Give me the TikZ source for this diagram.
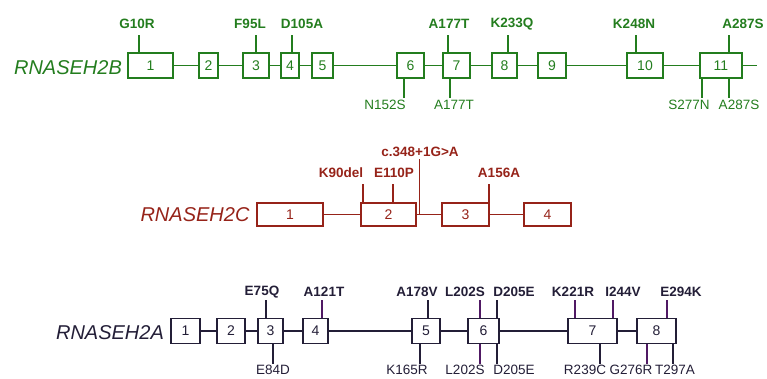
\documentclass[tikz,border=0pt]{standalone}
\usepackage{fontspec}
\setmainfont{Liberation Sans}
\usepackage{tikz}
\definecolor{geneB}{RGB}{35,125,30}
\definecolor{geneC}{RGB}{150,35,25}
\definecolor{geneA}{RGB}{35,30,55}
\definecolor{tickpurple}{RGB}{80,25,100}

\begin{document}
\begin{tikzpicture}[x=1pt,y=-1pt,
    exon/.style={draw,line width=1.4pt,minimum height=25pt,inner sep=0pt,font=\fontsize{14}{14}\selectfont},
    topmut/.style={font=\bfseries\fontsize{13.5}{14}\selectfont,inner sep=0pt},
    botmut/.style={font=\fontsize{13.5}{14}\selectfont,inner sep=0pt},
    gene/.style={font=\itshape\fontsize{20}{20}\selectfont,inner sep=0pt},
    link/.style={line width=1.3pt}]
    \useasboundingbox (0,0) rectangle (767,378);

    % RNASEH2B
    \begin{scope}[geneB]
    \node[gene] (nameB) at (68,68) {RNASEH2B};
    \foreach \n/\xc/\w in {1/150.5/45, 2/208.5/19, 3/256/26, 4/290/18, 5/322.5/21,
        6/410.5/27, 7/456.5/27, 8/504.5/25, 9/552/28, 10/645/36, 11/721/42}
        \node[exon,minimum width=\w pt] (b\n) at (\xc,65.5) {\n};
    \foreach \a/\b in {1/2, 2/3, 3/4, 4/5, 5/6, 6/7, 7/8, 8/9, 9/10, 10/11}
        \draw[link] (b\a) -- (b\b);
    \coordinate (tailB) at (757,65.5);
    \draw[link] (b11) -- (tailB);
    % mutations above and below
    \foreach \b/\x in {1/139, 3/256, 4/292, 7/448, 8/508, 10/636, 11/729}
        \draw[link] (b\b.north -| \x,0) -- ++(0,-17);
    \foreach \b/\x in {6/404, 7/450, 11/702, 11/729}
        \draw[link] (b\b.south -| \x,0) -- ++(0,19);
    \node[topmut] (mG10R) at (137,24) {G10R};
    \node[topmut] (mF95L) at (250,24) {F95L};
    \node[topmut] (mD105A) at (302,24) {D105A};
    \node[topmut] (mA177Tt) at (449,24) {A177T};
    \node[topmut] (mK233Q) at (512,24) {K233Q};
    \node[topmut] (mK248N) at (634,24) {K248N};
    \node[topmut] (mA287St) at (743,24) {A287S};
    \node[botmut] (mN152S) at (385,105) {N152S};
    \node[botmut] (mA177Tb) at (454,105) {A177T};
    \node[botmut] (mS277N) at (689,105) {S277N};
    \node[botmut] (mA287Sb) at (739,105) {A287S};
    \end{scope}

    % RNASEH2C
    \begin{scope}[geneC]
    \node[gene] (nameC) at (195,215) {RNASEH2C};
    \foreach \n/\xc/\w in {1/290/66, 2/388.5/55, 3/465.5/47, 4/547.5/47}
        \node[exon,minimum width=\w pt,minimum height=23pt] (c\n) at (\xc,214.5) {\n};
    \foreach \a/\b in {1/2, 2/3, 3/4}
        \draw[link] (c\a) -- (c\b);
    \foreach \b/\x in {2/363, 2/393, 3/489}
        \draw[link] (c\b.north -| \x,0) -- ++(0,-18);
    % splice site in the intron
    \draw[link] ([xshift=3pt]c2.east) -- ++(0,-56);
    \node[topmut] (mK90del) at (341,173) {K90del};
    \node[topmut] (mE110P) at (394,173) {E110P};
    \node[topmut] (msplice) at (420,152) {c.348+1G>A};
    \node[topmut] (mA156A) at (499,173) {A156A};
    \end{scope}

    % RNASEH2A
    \begin{scope}[geneA]
    \node[gene] (nameA) at (110,333) {RNASEH2A};
    \foreach \n/\xc/\w in {1/185.5/29, 2/231/28, 3/270.5/25, 4/315.5/25,
        5/426/28, 6/483.5/31, 7/592.5/49, 8/656.5/39}
        \node[exon,minimum width=\w pt] (a\n) at (\xc,331) {\n};
    \foreach \a/\b in {1/2, 2/3, 3/4, 4/5, 5/6, 6/7, 7/8}
        \draw[link] (a\a) -- (a\b);
    \foreach \b/\x/\c in {3/266/geneA, 4/322/tickpurple, 5/428/geneA, 6/480/tickpurple,
        6/497/geneA, 7/575/tickpurple, 7/613/tickpurple, 8/667/tickpurple}
        \draw[link,\c] (a\b.north -| \x,0) -- ++(0,-18);
    \foreach \b/\x/\c in {3/273/geneA, 5/420/geneA, 6/480/tickpurple, 6/497/geneA,
        7/600/geneA, 8/647/tickpurple, 8/673/geneA}
        \draw[link,\c] (a\b.south -| \x,0) -- ++(0,20);
    \node[topmut] (mE75Q) at (262,292) {E75Q};
    \node[topmut] (mA121T) at (324,292) {A121T};
    \node[topmut] (mA178V) at (417,292) {A178V};
    \node[topmut] (mL202St) at (465,292) {L202S};
    \node[topmut] (mD205Et) at (514,292) {D205E};
    \node[topmut] (mK221R) at (573,292) {K221R};
    \node[topmut] (mI244V) at (623,292) {I244V};
    \node[topmut] (mE294K) at (681,292) {E294K};
    \node[botmut] (mE84D) at (273,370) {E84D};
    \node[botmut] (mK165R) at (407,370) {K165R};
    \node[botmut] (mL202Sb) at (465,370) {L202S};
    \node[botmut] (mD205Eb) at (514,370) {D205E};
    \node[botmut] (mR239C) at (585,370) {R239C};
    \node[botmut] (mG276R) at (631,370) {G276R};
    \node[botmut] (mT297A) at (675,370) {T297A};
    \end{scope}
\end{tikzpicture}
\end{document}
